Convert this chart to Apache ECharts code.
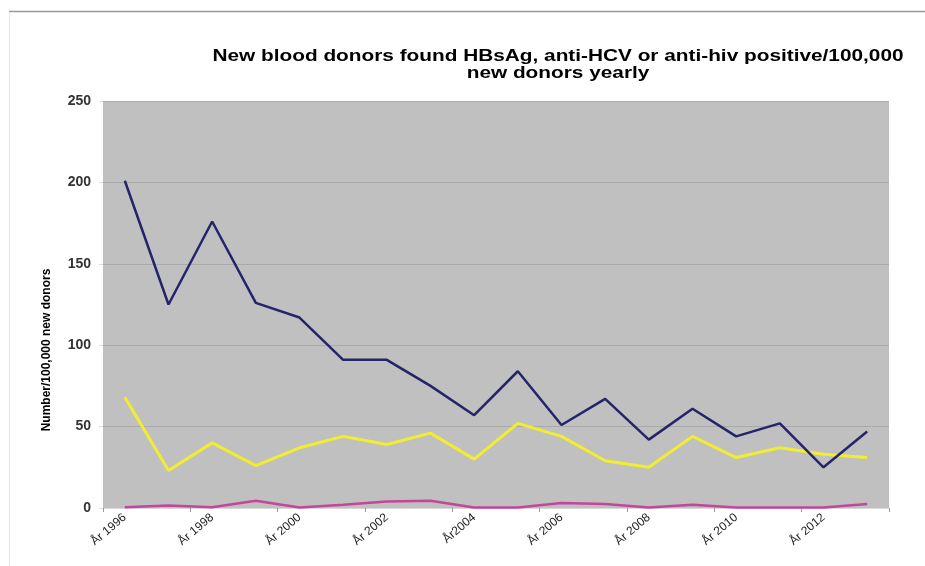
<!DOCTYPE html>
<html>
<head>
<meta charset="utf-8">
<script src="https://cdn.jsdelivr.net/npm/echarts@6/dist/echarts.min.js"></script>
<style>
  html, body { margin: 0; padding: 0; background: #fff; }
  #donorChart { width: 925px; height: 566px; }
</style>
</head>
<body>
<div id="donorChart"></div>
<script>
// data
const years = ['År 1996', 'År 1997', 'År 1998', 'År 1999', 'År 2000', 'År 2001', 'År 2002', 'År 2003', 'År2004',
  'År 2005', 'År 2006', 'År 2007', 'År 2008', 'År 2009', 'År 2010', 'År 2011', 'År 2012', 'År 2013']
const hbsagValues = [201, 125, 176, 126, 117, 91, 91, 75, 57, 84, 51, 67, 42, 61, 44, 52, 25, 47]
const hcvValues = [68, 23, 40, 26, 37, 44, 39, 46, 30, 52, 44, 29, 25, 44, 31, 37, 33, 31]
const hivValues = [0.5, 1.5, 0.5, 4.5, 0.3, 2, 4, 4.5, 0.3, 0.3, 3, 2.5, 0.3, 2, 0.3, 0.3, 0.3, 2.5]
const yTicks = [0, 50, 100, 150, 200, 250]

const donorChart = echarts.init(document.getElementById('donorChart'))
const donorChartOption = {
  animation: false,
  grid: {
    left: 103,
    right: 36,
    top: 101,
    bottom: 58,
    show: true,
    backgroundColor: '#c0c0c0',
    borderWidth: 0
  },
  graphic: [
    // frame lines of the original slide
    { type: 'line', shape: { x1: 9, y1: 11.5, x2: 925, y2: 11.5 }, style: { stroke: '#9a9a9a', lineWidth: 1.5 } },
    { type: 'line', shape: { x1: 9.5, y1: 12, x2: 9.5, y2: 566 }, style: { stroke: '#e6e6e6', lineWidth: 1 } },
    {
      // the title in the picture is stretched sideways
      type: 'text',
      x: 558,
      y: 65,
      scaleX: 1.3,
      style: {
        text: 'New blood donors found HBsAg, anti-HCV or anti-hiv positive/100,000\nnew donors yearly',
        align: 'center',
        verticalAlign: 'middle',
        font: 'bold 16px "Liberation Sans", Arial, sans-serif',
        lineHeight: 17,
        fill: '#000'
      }
    },
    {
      type: 'text',
      x: 47,
      y: 350,
      rotation: Math.PI / 2,
      style: {
        text: 'Number/100,000 new donors',
        align: 'center',
        verticalAlign: 'middle',
        font: 'bold 12px "Liberation Sans", Arial, sans-serif',
        fill: '#000'
      }
    }
  ],
  xAxis: {
    type: 'category',
    data: years,
    boundaryGap: true,
    axisLine: { show: true, lineStyle: { color: '#d8d8d8', width: 1 } },
    axisTick: { show: true, length: 4, lineStyle: { color: '#999' } },
    axisLabel: {
      interval: 1,
      rotate: 40,
      margin: 8,
      fontSize: 12,
      color: '#222',
      fontFamily: 'Liberation Sans'
    }
  },
  yAxis: {
    type: 'value',
    min: yTicks[0],
    max: yTicks[yTicks.length - 1],
    interval: 50,
    axisLine: { show: false },
    axisTick: { show: true, length: 4, lineStyle: { color: '#ddd' } },
    axisLabel: {
      fontSize: 14,
      fontWeight: 'bold',
      color: '#333',
      margin: 12,
      fontFamily: 'Liberation Sans'
    },
    splitLine: { show: true, lineStyle: { color: '#a9a9a9', width: 1 } }
  },
  series: [
    {
      name: 'HBsAg',
      type: 'line',
      data: hbsagValues,
      symbol: 'none',
      lineStyle: { color: '#24246a', width: 2.5 },
      z: 3
    },
    {
      name: 'anti-HCV',
      type: 'line',
      data: hcvValues,
      symbol: 'none',
      lineStyle: { color: '#f2ee2e', width: 3 },
      z: 2
    },
    {
      name: 'anti-hiv',
      type: 'line',
      data: hivValues,
      symbol: 'none',
      lineStyle: { color: '#c2479c', width: 2.5 },
      z: 2
    }
  ]
}
donorChart.setOption(donorChartOption, true)
</script>
</body>
</html>
